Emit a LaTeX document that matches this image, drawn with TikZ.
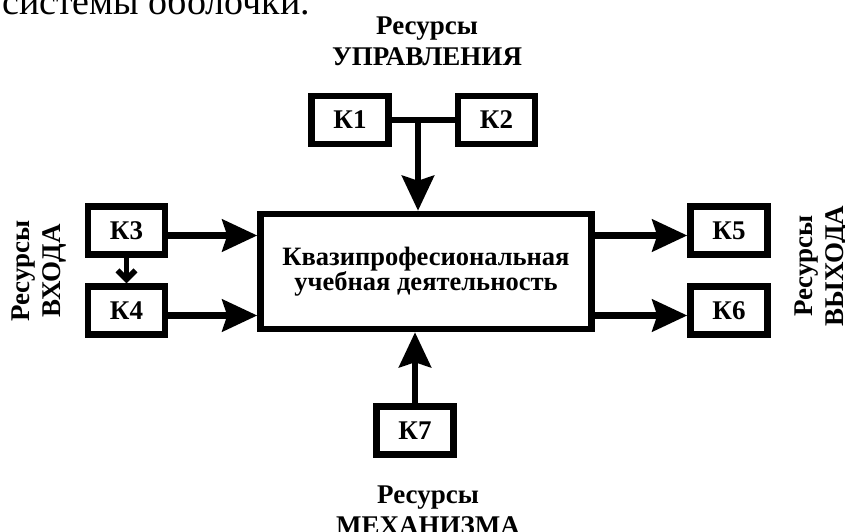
\documentclass[tikz,border=0pt]{standalone}
\usepackage{fontspec}
\setmainfont{Liberation Serif}
\usetikzlibrary{arrows.meta}
\tikzset{
	kbox/.style={draw, line width=6.5pt, minimum width=77pt, minimum height=48pt, inner sep=0pt, font=\fontsize{27}{27}\selectfont\bfseries},
	mainbox/.style={draw, line width=6.5pt, minimum width=331pt, minimum height=115pt, inner sep=0pt, align=center, font=\fontsize{26.5}{25}\selectfont\bfseries},
	restext/.style={inner sep=0pt, align=center, font=\fontsize{27}{31}\selectfont\bfseries},
	bigarrow/.style={line width=6.5pt, -{Stealth[length=35pt,width=32pt,inset=5pt]}},
	smallarrow/.style={line width=5.5pt, -{Straight Barb[length=9pt,width=18pt]}},
	link/.style={line width=6.5pt}
}

\begin{document}
\begin{tikzpicture}[x=1pt, y=-1pt]
			%%%%% START %%%%%
			\useasboundingbox (0, 0) rectangle (845, 532);
			\clip (0, 0) rectangle (845, 532);
			
			\node[anchor=base west, inner sep=0pt, font=\fontsize{38}{38}\selectfont] (prev) at (2, 15) {системы оболочки.};
			
			\node[mainbox] (main) at (426, 271.5) {Квазипрофесиональная\\учебная деятельность};
			
			\node[kbox] (k1) at (350, 120) {К1};
			\node[kbox] (k2) at (496.5, 120) {К2};
			\node[kbox] (k3) at (126.5, 230.5) {К3};
			\node[kbox] (k4) at (126.5, 310.5) {К4};
			\node[kbox] (k5) at (729, 230.5) {К5};
			\node[kbox] (k6) at (729, 310.5) {К6};
			\node[kbox] (k7) at (415, 430.5) {К7};
			
			\node[restext, anchor=north] (upr) at (427, 17) {Ресурсы\\УПРАВЛЕНИЯ};
			\node[restext, anchor=north] (mech) at (428, 486) {Ресурсы\\МЕХАНИЗМА};
			\node[restext, anchor=north, rotate=90] (vhod) at (12, 271) {Ресурсы\\ВХОДА};
			\node[restext, anchor=north, rotate=90] (vyhod) at (795, 266) {Ресурсы\\ВЫХОДА};
			
			% control
			\coordinate (jn) at (418, 120);
			\draw[link] (k1.east) -- (k2.west);
			\draw[bigarrow] (jn) -- (jn |- main.north);
			
			% input
			\coordinate (a3) at ([yshift=-5pt]k3.east);
			\coordinate (a4) at ([yshift=-5pt]k4.east);
			\draw[bigarrow] (a3) -- (a3 -| main.west);
			\draw[bigarrow] (a4) -- (a4 -| main.west);
			\draw[smallarrow] (k3.south) -- (k4.north);
			
			% output
			\coordinate (b5) at ([yshift=-5pt]k5.west);
			\coordinate (b6) at ([yshift=-5pt]k6.west);
			\draw[bigarrow] (b5 -| main.east) -- (b5);
			\draw[bigarrow] (b6 -| main.east) -- (b6);
			
			% mechanism
			\draw[bigarrow] (k7.north) -- (k7.north |- main.south);
			%%%%% END %%%%%
\end{tikzpicture}
\end{document}
